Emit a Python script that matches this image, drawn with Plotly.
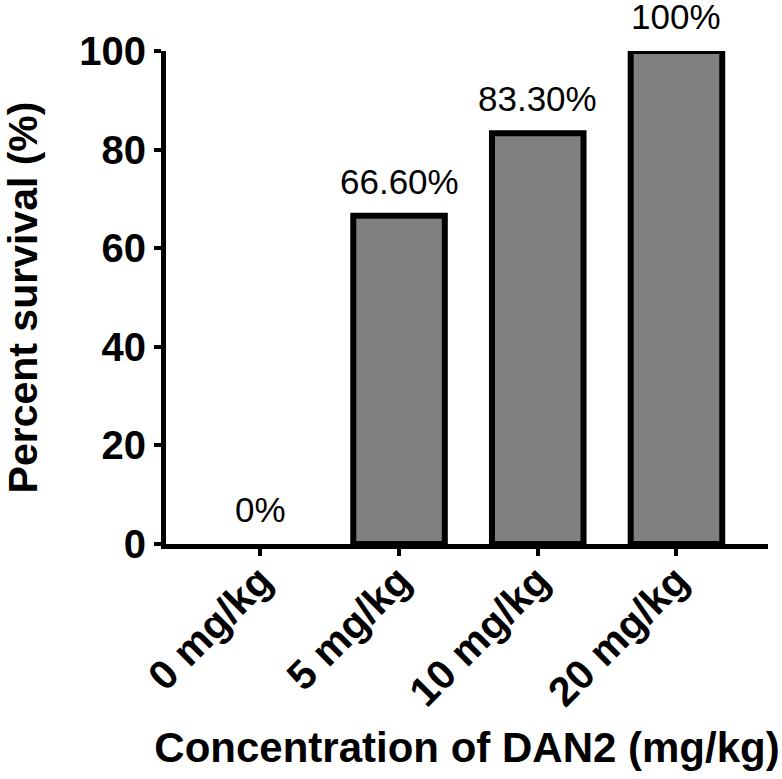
import plotly.graph_objects as go

doses = ["0 mg/kg", "5 mg/kg", "10 mg/kg", "20 mg/kg"]
survival = [0, 66.6, 83.3, 100]
labels = ["0%", "66.60%", "83.30%", "100%"]

FONT = "Liberation Sans, Arial, Helvetica, sans-serif"

fig = go.Figure()
fig.add_trace(go.Bar(
    x=doses,
    y=survival,
    width=0.66,
    marker=dict(
        color="#808080",
        # a zero-height bar shows no outline in the original
        line=dict(color="black", width=[0 if v == 0 else 6 for v in survival]),
    ),
    showlegend=False,
))

# value labels above bars
for d, v, t in zip(doses, survival, labels):
    fig.add_annotation(
        x=d, y=v, text=t, showarrow=False,
        yanchor="bottom", yshift=13,
        font=dict(family=FONT, size=35, color="black"),
    )

fig.update_layout(
    width=782,
    height=779,
    template="none",
    plot_bgcolor="white",
    paper_bgcolor="white",
    margin=dict(l=166, r=14, t=51, b=235),
    font=dict(family=FONT, color="black"),
)

fig.update_xaxes(
    range=[-0.68, 3.66],
    automargin=False,
    showline=True, linecolor="black", linewidth=5,
    ticks="outside", ticklen=7, tickwidth=4, tickcolor="black",
    tickangle=-45, ticklabelstandoff=-16,
    tickfont=dict(family=FONT, size=41, color="black", weight="bold"),
    title=dict(text="Concentration of DAN2 (mg/kg)", standoff=20,
               font=dict(family=FONT, size=42, color="black", weight="bold")),
    showgrid=False, zeroline=False,
)
fig.update_yaxes(
    range=[0, 100],
    automargin=False,
    tickvals=[0, 20, 40, 60, 80, 100],
    showline=True, linecolor="black", linewidth=5,
    ticks="outside", ticklen=7, tickwidth=4, tickcolor="black",
    tickfont=dict(family=FONT, size=40, color="black", weight="bold"),
    title=dict(text="Percent survival (%)", standoff=50,
               font=dict(family=FONT, size=41, color="black", weight="bold")),
    showgrid=False, zeroline=False,
)

# drop the browser's default 8px body margin so the figure fills the window
fig.write_html(
    "out.html",
    config={"displayModeBar": False},
    post_script="document.body.style.margin='0';",
)
